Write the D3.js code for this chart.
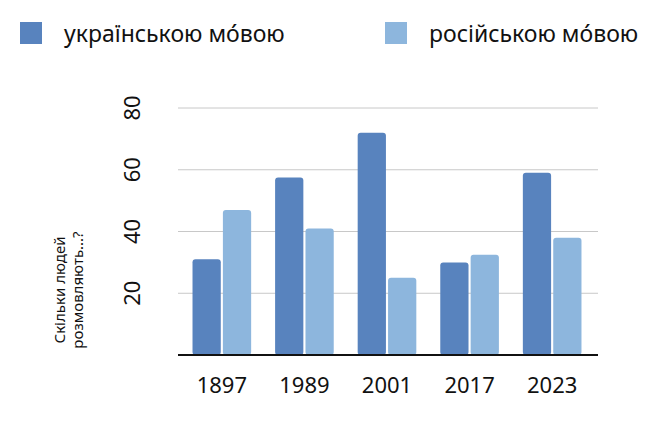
<!DOCTYPE html>
<html><head><meta charset="utf-8">
<script src="https://cdn.jsdelivr.net/npm/d3@7"></script>
<style>body{margin:0;background:#fff}text{font-family:"Noto Sans",sans-serif}</style>
</head><body>
<script>
const years = ["1897", "1989", "2001", "2017", "2023"];
const ukrainian = [31, 57.5, 72, 30, 59];
const russian = [47, 41, 25, 32.5, 38];
const seriesNames = ["українською мо́вою", "російською мо́вою"];
const colors = ["#5883be", "#8db6dd"];
const yTicks = [20, 40, 60, 80];

const svg = d3.select("body").append("svg").attr("width", 669).attr("height", 427);
const x = d3.scaleBand().domain(years).range([176, 598]).paddingInner(0.29).paddingOuter(0.2);
const inner = d3.scaleBand().domain([0, 1]).range([0, x.bandwidth()]).paddingInner(0.07);
const y = d3.scaleLinear().domain([0, 80]).range([355, 108]);

svg.append("g").selectAll("line").data(yTicks).join("line")
  .attr("x1", 178).attr("x2", 598).attr("y1", d => y(d)).attr("y2", d => y(d))
  .attr("stroke", "#c8c8c8");
svg.append("g").selectAll("text").data(yTicks).join("text")
  .attr("transform", d => `translate(140,${y(d)}) rotate(-90)`)
  .attr("text-anchor", "middle").attr("font-size", 22).attr("fill", "#111").text(d => d);

const data = years.map((yr, i) => ({ yr, v: [ukrainian[i], russian[i]] }));
svg.append("g").selectAll("g").data(data).join("g")
  .attr("transform", d => `translate(${x(d.yr)},0)`)
  .selectAll("rect").data(d => d.v.map((v, k) => ({ v, k }))).join("rect")
  .attr("x", d => inner(d.k)).attr("width", inner.bandwidth())
  .attr("y", d => y(d.v)).attr("height", d => y(0) - y(d.v))
  .attr("rx", 3).attr("fill", d => colors[d.k]);

svg.append("line").attr("x1", 178).attr("x2", 598).attr("y1", 355).attr("y2", 355)
  .attr("stroke", "#111").attr("stroke-width", 2);
svg.append("g").selectAll("text").data(years).join("text")
  .attr("x", d => x(d) + x.bandwidth() / 2).attr("y", 393)
  .attr("text-anchor", "middle").attr("font-size", 22).attr("fill", "#111").text(d => d);

const t = svg.append("text").attr("transform", "translate(65,290) rotate(-90)")
  .attr("text-anchor", "middle").attr("font-size", 15).attr("fill", "#111");
t.append("tspan").attr("x", 0).attr("dy", 0).text("Скільки людей");
t.append("tspan").attr("x", 0).attr("dy", 18).text("розмовляють...?");

const lx = [20, 385];
seriesNames.forEach((n, i) => {
  svg.append("rect").attr("x", lx[i]).attr("y", 22).attr("width", 22).attr("height", 22).attr("fill", colors[i]);
  svg.append("text").attr("x", lx[i] + 44).attr("y", 42).attr("font-size", 23).attr("fill", "#111").text(n);
});
</script>
</body></html>
